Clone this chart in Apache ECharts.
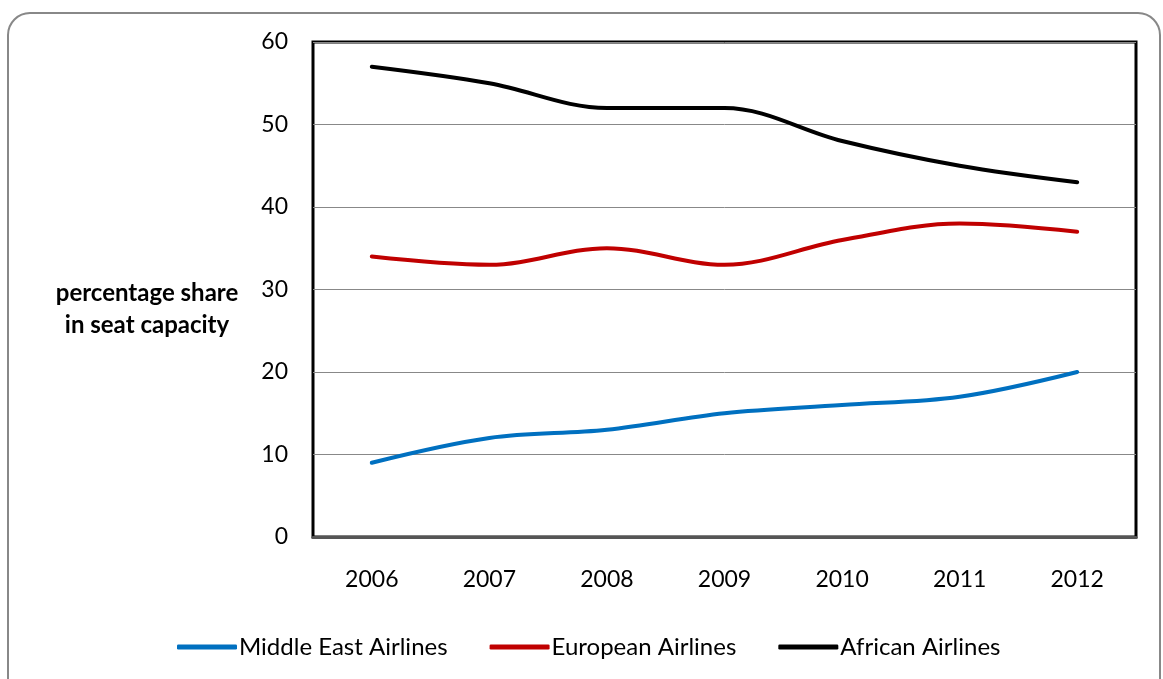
<!DOCTYPE html>
<html><head><meta charset="utf-8">
<script src="https://cdn.jsdelivr.net/npm/echarts@6/dist/echarts.min.js"></script>
<style>html,body{margin:0;padding:0;background:#fff}#c{width:1163px;height:679px}</style>
</head><body><div id="c"></div>
<script>
const years = ['2006','2007','2008','2009','2010','2011','2012'];
const middleEast = [9, 12, 13, 15, 16, 17, 20];
const european = [34, 33, 35, 33, 36, 38, 37];
const african = [57, 55, 52, 52, 48, 45, 43];
const seriesNames = ['Middle East Airlines','European Airlines','African Airlines'];
const yTitle = 'percentage share\nin seat capacity';

const FONT = 'Lato, "Open Sans", sans-serif';
const chart = echarts.init(document.getElementById('c'), null, {renderer:'canvas'});
const mk = (name, data, color) => ({
  name, type:'line', data, smooth:0.35, symbol:'none',
  lineStyle:{color, width:4, cap:'round'}, itemStyle:{color}
});
chart.setOption({
  animation:false,
  backgroundColor:'#fff',
  textStyle:{fontFamily:FONT},
  graphic:[
    {type:'rect', shape:{x:8,y:13,width:1152,height:700,r:22}, style:{fill:'none',stroke:'#888',lineWidth:2}, z:-10},
    {type:'text', x:147, y:309, style:{text:yTitle, font:'bold 24px '+FONT, fill:'#000', align:'center', verticalAlign:'middle', lineHeight:32}}
  ],
  grid:{left:313, right:27, top:42, bottom:142, show:true, borderColor:'#000', borderWidth:3, containLabel:false},
  xAxis:{type:'category', data:years, boundaryGap:true,
    axisLine:{show:true, lineStyle:{color:'#555', width:3}}, axisTick:{show:false},
    axisLabel:{fontSize:23, color:'#000', margin:31, fontFamily:FONT}},
  yAxis:{type:'value', min:0, max:60, interval:10,
    axisLine:{show:false}, axisTick:{show:false},
    splitLine:{lineStyle:{color:'#888', width:1}},
    axisLabel:{fontSize:23, color:'#000', margin:25, fontFamily:FONT}},
  legend:{bottom:15, left:172, itemWidth:60, itemHeight:5, itemGap:42, icon:'roundRect',
    textStyle:{fontSize:24, color:'#000', fontFamily:FONT, padding:[0,0,0,-3]},
    data:seriesNames},
  series:[
    mk(seriesNames[0], middleEast, '#0070C0'),
    mk(seriesNames[1], european, '#C00000'),
    mk(seriesNames[2], african, '#000000')
  ]
});
</script></body></html>
